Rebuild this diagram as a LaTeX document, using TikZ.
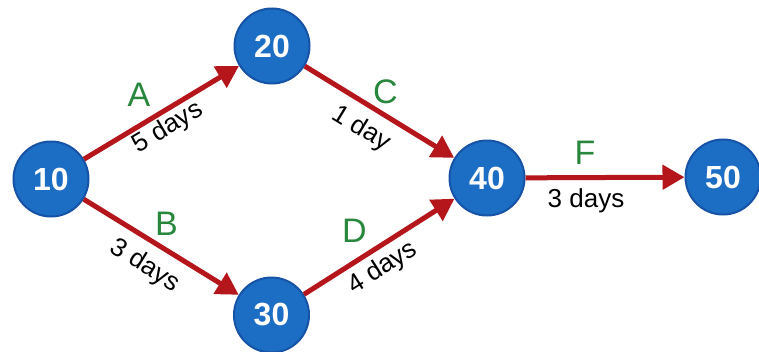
\documentclass[tikz,border=0pt]{standalone}
\usepackage{fontspec}
\setmainfont{Liberation Sans}
\usetikzlibrary{arrows.meta}
\definecolor{nodefill}{RGB}{28,110,196}
\definecolor{nodeedge}{RGB}{22,82,165}
\definecolor{edgered}{RGB}{180,22,28}
\definecolor{lblgreen}{RGB}{40,135,60}
\begin{document}
\begin{tikzpicture}[x=1pt,y=-1pt,
  event/.style={circle, fill=nodefill, draw=nodeedge, line width=2pt,
    minimum size=75pt, inner sep=0pt, text=white,
    font=\fontsize{32}{32}\selectfont\bfseries},
  act/.style={draw=edgered, line width=5pt,
    -{Triangle[length=22pt,width=24pt]}},
  letter/.style={text=lblgreen, inner sep=0pt,
    font=\fontsize{34}{34}\selectfont},
  dur/.style={text=black, inner sep=0pt,
    font=\fontsize{26}{26}\selectfont}]
\useasboundingbox (0,0) rectangle (759,351);
\node[event] (n10) at (51,179) {10};
\node[event] (n20) at (272,46) {20};
\node[event] (n30) at (271.5,315) {30};
\node[event] (n40) at (487,178) {40};
\node[event] (n50) at (723,177) {50};
\draw[act] (n10) -- (n20);
\draw[act] (n10) -- (n30);
\draw[act] (n20) -- (n40);
\draw[act] (n30) -- (n40);
\draw[act] (n40) -- (n50);
\node[letter] (lA) at (139,94.5) {A};
\node[letter] (lB) at (166.5,223.5) {B};
\node[letter] (lC) at (385.5,91.5) {C};
\node[letter] (lD) at (354.5,230.5) {D};
\node[letter] (lF) at (585,152.5) {F};
\node[dur, rotate=31] (dA) at (168,128) {5 days};
\node[dur, rotate=-32] (dB) at (145,266) {3 days};
\node[dur, rotate=-31.5] (dC) at (361,129) {1 day};
\node[dur, rotate=32.4] (dD) at (383,268) {4 days};
\node[dur] (dF) at (586,201) {3 days};
\end{tikzpicture}
\end{document}
